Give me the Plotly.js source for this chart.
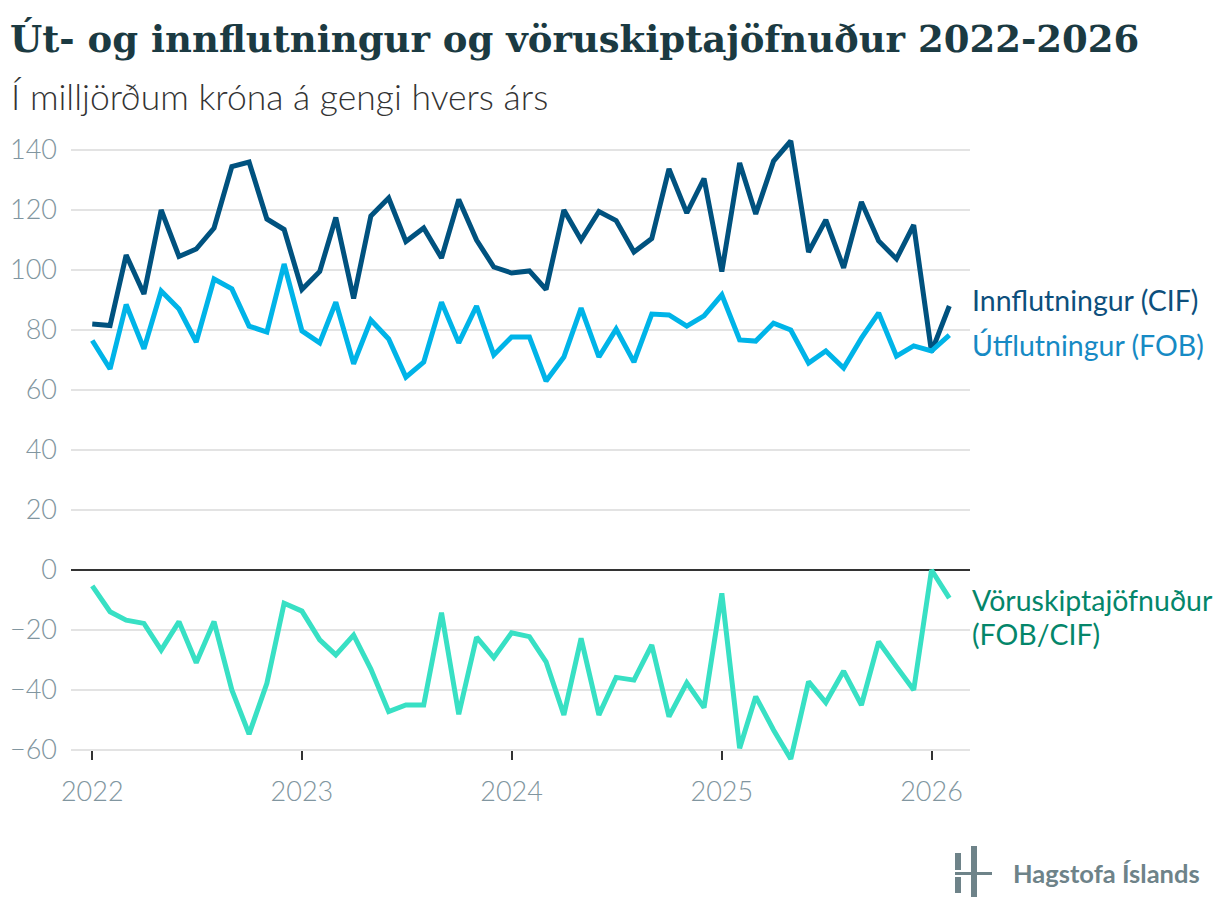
<!DOCTYPE html>
<html>
<head>
<meta charset="utf-8">
<script src="https://cdn.plot.ly/plotly-3.0.1.min.js"></script>
<style>
  html, body { margin: 0; padding: 0; background: #fff; }
  #chart { width: 1220px; height: 922px; }
</style>
</head>
<body>
<div id="chart"></div>
<script>
// ---- Data (billions ISK, monthly Jan 2022 – Feb 2026) ----
const startYear = 2022;
const monthCount = 50;
const months = [];
for (let i = 0; i < monthCount; i++) {
  const y = startYear + Math.floor(i / 12);
  const m = (i % 12) + 1;
  months.push(y + '-' + String(m).padStart(2, '0') + '-01');
}

const imports = [
  82, 81.5, 105, 92, 120, 104.5, 107, 114, 134.5, 136, 117, 113.5,
  93.5, 99.5, 117.5, 90.5, 118, 124, 109.5, 114, 104, 123.5, 110, 101,
  99, 99.7, 93.5, 120, 110, 119.5, 116.5, 106, 110.5, 133.7, 119, 130.5,
  99.5, 135.7, 118.7, 136.3, 143, 106, 116.7, 100.7, 122.7, 109.7, 103.7, 115,
  72.7, 88
];
const exports_ = [
  76.5, 67, 88.5, 73.7, 93, 87, 76, 97, 93.7, 81.3, 79.3, 102,
  79.7, 75.7, 89.3, 68.7, 83.3, 77, 64.3, 69.3, 89.3, 75.7, 88, 71.7,
  77.7, 77.7, 63, 71, 87.3, 71, 80.3, 69.3, 85.3, 85, 81.3, 84.7,
  91.7, 76.7, 76.3, 82.3, 80, 69, 73, 67.3, 77.3, 85.7, 71.3, 74.7,
  73, 78.3
];
const balance = [
  -5.3, -13.9, -16.7, -17.8, -26.7, -17.2, -30.9, -17.2, -40, -54.7, -37.8, -11.1,
  -13.7, -23.3, -28.3, -21.7, -33, -47.2, -45, -45, -14.2, -48.1, -22.4, -29.2,
  -20.9, -22.2, -30.6, -48.3, -22.8, -48.3, -35.8, -36.7, -25, -48.9, -37.6, -45.9,
  -7.8, -59.4, -42.2, -53.3, -63, -37.2, -44.2, -33.7, -45, -23.9, -32.2, -40,
  0, -9.4
];

const yTicks = [-60, -40, -20, 0, 20, 40, 60, 80, 100, 120, 140];
const xTickVals = ['2022-01-01', '2023-01-01', '2024-01-01', '2025-01-01', '2026-01-01'];
const xTickText = ['2022', '2023', '2024', '2025', '2026'];

const seriesNames = ['Innflutningur (CIF)', 'Útflutningur (FOB)', 'Vöruskiptajöfnuður (FOB/CIF)'];

// ---- Layout geometry ----
const W = 1220, H = 922;
const ML = 71, MR = 250, MT = 135, MB = 157;
const PW = W - ML - MR, PH = H - MT - MB;
const px = x => (x - ML) / PW;             // pixel -> paper x
const py = y => (H - MB - y) / PH;         // pixel -> paper y

const C_IMP = '#00527f', C_EXP = '#00b4e8', C_BAL = '#38e0c4';
const lato = 'Lato, "Open Sans", sans-serif';

const traces = [
  { x: months, y: imports, name: seriesNames[0], type: 'scatter', mode: 'lines',
    line: { color: C_IMP, width: 5 } },
  { x: months, y: exports_, name: seriesNames[1], type: 'scatter', mode: 'lines',
    line: { color: C_EXP, width: 5 } },
  { x: months, y: balance, name: seriesNames[2], type: 'scatter', mode: 'lines',
    line: { color: C_BAL, width: 5 } }
];

const grey = '#8196a0';

const layout = {
  width: W, height: H,
  margin: { l: ML, r: MR, t: MT, b: MB },
  paper_bgcolor: '#ffffff', plot_bgcolor: '#ffffff',
  showlegend: false,
  title: {
    text: 'Út- og innflutningur og vöruskiptajöfnuður 2022-2026',
    font: { family: '"DejaVu Serif", serif', size: 37, color: '#1b3a42', weight: 700 },
    xref: 'container', yref: 'container',
    x: 10 / W, xanchor: 'left', y: 1 - 39 / H, yanchor: 'middle'
  },
  xaxis: {
    type: 'date',
    range: ['2021-11-25', '2026-03-09'],
    tickvals: xTickVals, ticktext: xTickText,
    showgrid: false, zeroline: false, showline: false,
    ticks: 'outside', ticklen: 9, tickwidth: 2, tickcolor: '#333',
    anchor: 'free', position: py(750),
    ticklabelstandoff: 9,
    tickfont: { family: lato, size: 27, color: grey, weight: 300 },
    fixedrange: true
  },
  yaxis: {
    range: [-65, 145],
    tickvals: yTicks,
    showgrid: true, gridcolor: '#e3e3e3', gridwidth: 1.5,
    zeroline: true, zerolinecolor: '#333333', zerolinewidth: 1.5,
    showline: false, ticks: '',
    ticklabelstandoff: 13,
    tickfont: { family: lato, size: 27, color: grey, weight: 300 },
    fixedrange: true
  },
  annotations: [
    { text: 'Í milljörðum króna á gengi hvers árs', xref: 'paper', yref: 'paper',
      x: px(9), y: py(96), xanchor: 'left', yanchor: 'middle', showarrow: false,
      font: { family: lato, size: 35.5, color: '#333333', weight: 300 } },
    { text: seriesNames[0], xref: 'paper', yref: 'paper',
      x: px(970), y: py(300), xanchor: 'left', yanchor: 'middle', showarrow: false,
      font: { family: lato, size: 28.5, color: '#0d4f7c' } },
    { text: seriesNames[1], xref: 'paper', yref: 'paper',
      x: px(970), y: py(345), xanchor: 'left', yanchor: 'middle', showarrow: false,
      font: { family: lato, size: 28.5, color: '#168ac4' } },
    { text: 'Vöruskiptajöfnuður', xref: 'paper', yref: 'paper',
      x: px(970), y: py(600), xanchor: 'left', yanchor: 'middle', showarrow: false,
      font: { family: lato, size: 28.5, color: '#04866a' } },
    { text: '(FOB/CIF)', xref: 'paper', yref: 'paper',
      x: px(970), y: py(634), xanchor: 'left', yanchor: 'middle', showarrow: false,
      font: { family: lato, size: 28.5, color: '#04866a' } },
    { text: 'Hagstofa Íslands', xref: 'paper', yref: 'paper',
      x: px(1011), y: py(873), xanchor: 'left', yanchor: 'middle', showarrow: false,
      font: { family: lato, size: 25.5, color: '#6e8389', weight: 700 } }
  ],
  shapes: [
    // logo mark
    { type: 'rect', xref: 'paper', yref: 'paper', x0: px(955), x1: px(961), y0: py(853), y1: py(870),
      fillcolor: '#6e8389', line: { width: 0 } },
    { type: 'rect', xref: 'paper', yref: 'paper', x0: px(955), x1: px(961), y0: py(877), y1: py(893),
      fillcolor: '#6e8389', line: { width: 0 } },
    { type: 'rect', xref: 'paper', yref: 'paper', x0: px(971), x1: px(977), y0: py(846), y1: py(897),
      fillcolor: '#6e8389', line: { width: 0 } },
    { type: 'rect', xref: 'paper', yref: 'paper', x0: px(955), x1: px(992), y0: py(872), y1: py(875),
      fillcolor: '#6e8389', line: { width: 0 } }
  ]
};

Plotly.newPlot('chart', traces, layout, { displayModeBar: false, staticPlot: true });
</script>
</body>
</html>
